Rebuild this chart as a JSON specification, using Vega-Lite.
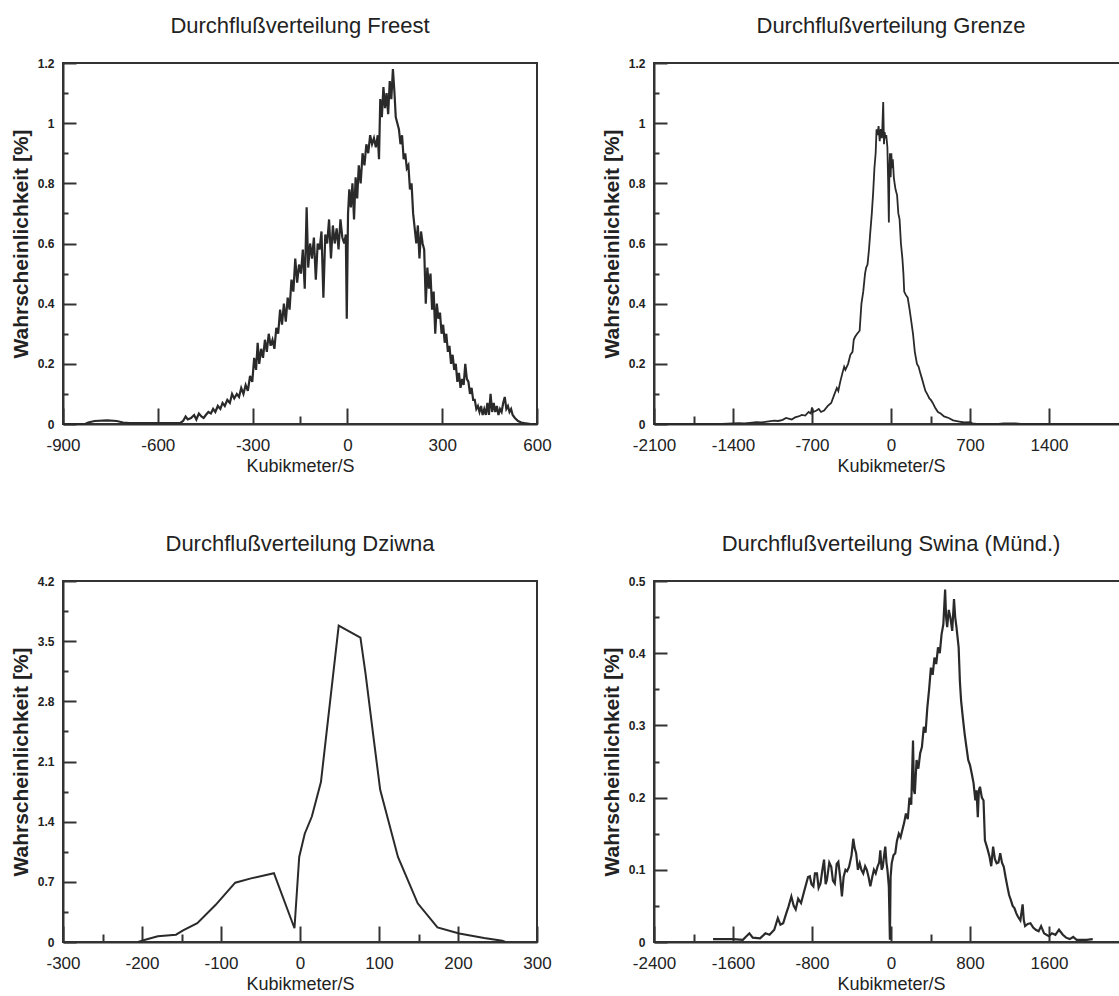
{
  "$schema": "https://vega.github.io/schema/vega-lite/v6.json",
  "padding": {"left": 9, "top": 14, "right": 5, "bottom": 5},
  "background": "white",
  "bounds": "flush",
  "columns": 2,
  "spacing": {"row": 157, "column": 117},
  "datasets": {
    "freest": [
      {"q": -900, "p": 0}, {"q": -830, "p": 0}, {"q": -820, "p": 0.005}, {"q": -800, "p": 0.01}, {"q": -760, "p": 0.012}, {"q": -730, "p": 0.01}, {"q": -710, "p": 0.005}, {"q": -690, "p": 0.003}, {"q": -600, "p": 0.003}, {"q": -530, "p": 0.003},
      {"q": -520, "p": 0.01}, {"q": -512, "p": 0.025}, {"q": -505, "p": 0.015}, {"q": -495, "p": 0.02}, {"q": -485, "p": 0.03}, {"q": -478, "p": 0.015}, {"q": -470, "p": 0.035}, {"q": -462, "p": 0.025}, {"q": -455, "p": 0.02}, {"q": -448, "p": 0.03},
      {"q": -440, "p": 0.04}, {"q": -432, "p": 0.035}, {"q": -425, "p": 0.05}, {"q": -418, "p": 0.04}, {"q": -410, "p": 0.06}, {"q": -402, "p": 0.05}, {"q": -395, "p": 0.07}, {"q": -388, "p": 0.06}, {"q": -380, "p": 0.08}, {"q": -372, "p": 0.07},
      {"q": -365, "p": 0.1}, {"q": -358, "p": 0.085}, {"q": -350, "p": 0.1}, {"q": -343, "p": 0.09}, {"q": -336, "p": 0.12}, {"q": -329, "p": 0.1}, {"q": -322, "p": 0.13}, {"q": -315, "p": 0.11}, {"q": -308, "p": 0.16}, {"q": -301, "p": 0.14},
      {"q": -295, "p": 0.22}, {"q": -289, "p": 0.18}, {"q": -284, "p": 0.27}, {"q": -279, "p": 0.2}, {"q": -273, "p": 0.25}, {"q": -267, "p": 0.22}, {"q": -261, "p": 0.28}, {"q": -255, "p": 0.24}, {"q": -249, "p": 0.3}, {"q": -243, "p": 0.26},
      {"q": -237, "p": 0.28}, {"q": -231, "p": 0.25}, {"q": -225, "p": 0.32}, {"q": -219, "p": 0.3}, {"q": -213, "p": 0.38}, {"q": -207, "p": 0.33}, {"q": -201, "p": 0.4}, {"q": -195, "p": 0.34}, {"q": -189, "p": 0.42}, {"q": -183, "p": 0.38},
      {"q": -177, "p": 0.48}, {"q": -171, "p": 0.44}, {"q": -165, "p": 0.55}, {"q": -159, "p": 0.47}, {"q": -153, "p": 0.53}, {"q": -147, "p": 0.5}, {"q": -141, "p": 0.58}, {"q": -135, "p": 0.45}, {"q": -129, "p": 0.72}, {"q": -124, "p": 0.52},
      {"q": -118, "p": 0.6}, {"q": -112, "p": 0.55}, {"q": -106, "p": 0.62}, {"q": -100, "p": 0.48}, {"q": -94, "p": 0.6}, {"q": -88, "p": 0.58}, {"q": -82, "p": 0.64}, {"q": -76, "p": 0.42}, {"q": -70, "p": 0.63}, {"q": -64, "p": 0.6},
      {"q": -58, "p": 0.68}, {"q": -52, "p": 0.55}, {"q": -46, "p": 0.66}, {"q": -40, "p": 0.6}, {"q": -34, "p": 0.65}, {"q": -28, "p": 0.58}, {"q": -22, "p": 0.68}, {"q": -16, "p": 0.62}, {"q": -10, "p": 0.6}, {"q": -5, "p": 0.63},
      {"q": -2, "p": 0.35}, {"q": 2, "p": 0.7}, {"q": 6, "p": 0.78}, {"q": 11, "p": 0.72}, {"q": 16, "p": 0.8}, {"q": 21, "p": 0.68}, {"q": 26, "p": 0.82}, {"q": 31, "p": 0.75}, {"q": 36, "p": 0.86}, {"q": 42, "p": 0.8},
      {"q": 48, "p": 0.9}, {"q": 54, "p": 0.86}, {"q": 60, "p": 0.93}, {"q": 66, "p": 0.9}, {"q": 72, "p": 0.96}, {"q": 78, "p": 0.93}, {"q": 84, "p": 0.95}, {"q": 90, "p": 0.92}, {"q": 96, "p": 0.96}, {"q": 100, "p": 0.88},
      {"q": 104, "p": 1.08}, {"q": 109, "p": 1.02}, {"q": 114, "p": 1.12}, {"q": 119, "p": 1.05}, {"q": 124, "p": 1.1}, {"q": 129, "p": 1.03}, {"q": 134, "p": 1.14}, {"q": 139, "p": 1.08}, {"q": 144, "p": 1.18}, {"q": 149, "p": 1.1},
      {"q": 153, "p": 1.02}, {"q": 158, "p": 1.0}, {"q": 163, "p": 0.98}, {"q": 168, "p": 0.93}, {"q": 173, "p": 0.96}, {"q": 178, "p": 0.88}, {"q": 183, "p": 0.9}, {"q": 188, "p": 0.85}, {"q": 193, "p": 0.86}, {"q": 198, "p": 0.78},
      {"q": 203, "p": 0.8}, {"q": 208, "p": 0.7}, {"q": 213, "p": 0.65}, {"q": 218, "p": 0.6}, {"q": 223, "p": 0.66}, {"q": 228, "p": 0.55}, {"q": 233, "p": 0.64}, {"q": 238, "p": 0.6}, {"q": 243, "p": 0.58}, {"q": 248, "p": 0.4},
      {"q": 253, "p": 0.52}, {"q": 258, "p": 0.45}, {"q": 263, "p": 0.5}, {"q": 268, "p": 0.38}, {"q": 273, "p": 0.44}, {"q": 278, "p": 0.3}, {"q": 283, "p": 0.4}, {"q": 288, "p": 0.35}, {"q": 293, "p": 0.37}, {"q": 298, "p": 0.3},
      {"q": 303, "p": 0.33}, {"q": 308, "p": 0.27}, {"q": 313, "p": 0.3}, {"q": 318, "p": 0.24}, {"q": 323, "p": 0.26}, {"q": 328, "p": 0.2}, {"q": 333, "p": 0.23}, {"q": 338, "p": 0.18}, {"q": 343, "p": 0.2}, {"q": 348, "p": 0.14},
      {"q": 353, "p": 0.17}, {"q": 358, "p": 0.12}, {"q": 363, "p": 0.15}, {"q": 368, "p": 0.13}, {"q": 373, "p": 0.2}, {"q": 378, "p": 0.15}, {"q": 383, "p": 0.14}, {"q": 388, "p": 0.1}, {"q": 393, "p": 0.12}, {"q": 398, "p": 0.08},
      {"q": 403, "p": 0.08}, {"q": 408, "p": 0.05}, {"q": 413, "p": 0.06}, {"q": 418, "p": 0.04}, {"q": 423, "p": 0.06}, {"q": 428, "p": 0.03}, {"q": 433, "p": 0.05}, {"q": 438, "p": 0.03}, {"q": 443, "p": 0.07}, {"q": 448, "p": 0.03},
      {"q": 453, "p": 0.1}, {"q": 458, "p": 0.04}, {"q": 463, "p": 0.07}, {"q": 468, "p": 0.04}, {"q": 473, "p": 0.06}, {"q": 478, "p": 0.03}, {"q": 483, "p": 0.05}, {"q": 488, "p": 0.04}, {"q": 493, "p": 0.07}, {"q": 498, "p": 0.09},
      {"q": 503, "p": 0.05}, {"q": 508, "p": 0.06}, {"q": 513, "p": 0.04}, {"q": 518, "p": 0.05}, {"q": 523, "p": 0.03}, {"q": 530, "p": 0.02}, {"q": 540, "p": 0.01}, {"q": 550, "p": 0.005}, {"q": 560, "p": 0.003}, {"q": 580, "p": 0}, {"q": 600, "p": 0}
    ],
    "grenze": [
      {"q": -2100, "p": 0}, {"q": -1500, "p": 0}, {"q": -1400, "p": 0.002}, {"q": -1350, "p": 0.003}, {"q": -1300, "p": 0.002}, {"q": -1250, "p": 0.004}, {"q": -1192, "p": 0.006}, {"q": -1150, "p": 0.005}, {"q": -1100, "p": 0.008}, {"q": -1034, "p": 0.011},
      {"q": -1000, "p": 0.01}, {"q": -960, "p": 0.014}, {"q": -930, "p": 0.02}, {"q": -908, "p": 0.018}, {"q": -880, "p": 0.015}, {"q": -850, "p": 0.022}, {"q": -820, "p": 0.025}, {"q": -790, "p": 0.03}, {"q": -760, "p": 0.028}, {"q": -730, "p": 0.04},
      {"q": -710, "p": 0.035}, {"q": -700, "p": 0.055}, {"q": -690, "p": 0.04}, {"q": -660, "p": 0.045}, {"q": -640, "p": 0.05}, {"q": -620, "p": 0.04}, {"q": -593, "p": 0.045}, {"q": -560, "p": 0.06}, {"q": -530, "p": 0.07}, {"q": -500, "p": 0.1},
      {"q": -480, "p": 0.12}, {"q": -467, "p": 0.11}, {"q": -450, "p": 0.14}, {"q": -430, "p": 0.17}, {"q": -415, "p": 0.19}, {"q": -404, "p": 0.18}, {"q": -380, "p": 0.2}, {"q": -360, "p": 0.23}, {"q": -341, "p": 0.24}, {"q": -330, "p": 0.28},
      {"q": -318, "p": 0.29}, {"q": -300, "p": 0.3}, {"q": -278, "p": 0.31}, {"q": -262, "p": 0.4}, {"q": -246, "p": 0.44}, {"q": -230, "p": 0.5}, {"q": -220, "p": 0.52}, {"q": -208, "p": 0.53}, {"q": -195, "p": 0.58}, {"q": -183, "p": 0.64},
      {"q": -170, "p": 0.7}, {"q": -158, "p": 0.77}, {"q": -147, "p": 0.85}, {"q": -136, "p": 0.9}, {"q": -128, "p": 0.98}, {"q": -120, "p": 0.96}, {"q": -110, "p": 0.99}, {"q": -100, "p": 0.94}, {"q": -90, "p": 0.98}, {"q": -80, "p": 0.95},
      {"q": -69, "p": 1.07}, {"q": -62, "p": 0.93}, {"q": -56, "p": 0.97}, {"q": -50, "p": 0.95}, {"q": -42, "p": 0.96}, {"q": -32, "p": 0.92}, {"q": -25, "p": 0.8}, {"q": -19, "p": 0.67}, {"q": -14, "p": 0.85}, {"q": -9, "p": 0.9},
      {"q": -3, "p": 0.82}, {"q": 3, "p": 0.9}, {"q": 9, "p": 0.85}, {"q": 16, "p": 0.88}, {"q": 25, "p": 0.82}, {"q": 32, "p": 0.8}, {"q": 40, "p": 0.78}, {"q": 54, "p": 0.76}, {"q": 65, "p": 0.7}, {"q": 76, "p": 0.68},
      {"q": 88, "p": 0.6}, {"q": 101, "p": 0.55}, {"q": 110, "p": 0.5}, {"q": 117, "p": 0.44}, {"q": 130, "p": 0.43}, {"q": 148, "p": 0.42}, {"q": 165, "p": 0.38}, {"q": 180, "p": 0.34}, {"q": 195, "p": 0.3}, {"q": 211, "p": 0.24},
      {"q": 230, "p": 0.2}, {"q": 245, "p": 0.19}, {"q": 259, "p": 0.17}, {"q": 275, "p": 0.15}, {"q": 290, "p": 0.13}, {"q": 305, "p": 0.11}, {"q": 320, "p": 0.1}, {"q": 340, "p": 0.085}, {"q": 353, "p": 0.08}, {"q": 370, "p": 0.07},
      {"q": 390, "p": 0.055}, {"q": 416, "p": 0.04}, {"q": 440, "p": 0.035}, {"q": 470, "p": 0.025}, {"q": 511, "p": 0.02}, {"q": 550, "p": 0.012}, {"q": 605, "p": 0.008}, {"q": 650, "p": 0.005}, {"q": 700, "p": 0.006}, {"q": 720, "p": 0.002},
      {"q": 760, "p": 0}, {"q": 950, "p": 0}, {"q": 1000, "p": 0.002}, {"q": 1100, "p": 0.002}, {"q": 1150, "p": 0}, {"q": 2100, "p": 0}
    ],
    "dziwna": [
      {"q": -205, "p": 0}, {"q": -196, "p": 0.027}, {"q": -180, "p": 0.066}, {"q": -157, "p": 0.085}, {"q": -148, "p": 0.135}, {"q": -130, "p": 0.22}, {"q": -107, "p": 0.43}, {"q": -82, "p": 0.69}, {"q": -62, "p": 0.74}, {"q": -33, "p": 0.8},
      {"q": -7, "p": 0.16}, {"q": -1, "p": 0.99}, {"q": 6, "p": 1.26}, {"q": 15, "p": 1.46}, {"q": 26.5, "p": 1.86}, {"q": 49, "p": 3.68}, {"q": 76.5, "p": 3.54}, {"q": 83, "p": 3.12}, {"q": 92.5, "p": 2.42}, {"q": 101.5, "p": 1.77},
      {"q": 124, "p": 0.99}, {"q": 149, "p": 0.45}, {"q": 174, "p": 0.17}, {"q": 201.5, "p": 0.1}, {"q": 233, "p": 0.046}, {"q": 256, "p": 0.015}, {"q": 260, "p": 0}
    ],
    "swina": [
      {"q": -1802, "p": 0.004}, {"q": -1600, "p": 0.004}, {"q": -1500, "p": 0.003}, {"q": -1434, "p": 0.012}, {"q": -1400, "p": 0.006}, {"q": -1326, "p": 0.005}, {"q": -1272, "p": 0.012}, {"q": -1230, "p": 0.01}, {"q": -1182, "p": 0.017}, {"q": -1146, "p": 0.033},
      {"q": -1120, "p": 0.024}, {"q": -1092, "p": 0.026}, {"q": -1060, "p": 0.04}, {"q": -1038, "p": 0.049}, {"q": -1009, "p": 0.063}, {"q": -985, "p": 0.05}, {"q": -965, "p": 0.045}, {"q": -940, "p": 0.06}, {"q": -911, "p": 0.054}, {"q": -880, "p": 0.07},
      {"q": -858, "p": 0.081}, {"q": -840, "p": 0.09}, {"q": -822, "p": 0.091}, {"q": -805, "p": 0.08}, {"q": -786, "p": 0.077}, {"q": -770, "p": 0.095}, {"q": -750, "p": 0.095}, {"q": -733, "p": 0.075}, {"q": -714, "p": 0.081}, {"q": -695, "p": 0.1},
      {"q": -678, "p": 0.114}, {"q": -662, "p": 0.08}, {"q": -649, "p": 0.086}, {"q": -625, "p": 0.11}, {"q": -605, "p": 0.104}, {"q": -588, "p": 0.085}, {"q": -569, "p": 0.081}, {"q": -550, "p": 0.108}, {"q": -533, "p": 0.111}, {"q": -515, "p": 0.09},
      {"q": -497, "p": 0.063}, {"q": -480, "p": 0.09}, {"q": -461, "p": 0.1}, {"q": -445, "p": 0.098}, {"q": -425, "p": 0.104}, {"q": -400, "p": 0.12}, {"q": -382, "p": 0.143}, {"q": -368, "p": 0.13}, {"q": -353, "p": 0.123}, {"q": -335, "p": 0.1},
      {"q": -317, "p": 0.109}, {"q": -300, "p": 0.1}, {"q": -281, "p": 0.095}, {"q": -262, "p": 0.105}, {"q": -245, "p": 0.1}, {"q": -227, "p": 0.09}, {"q": -209, "p": 0.077}, {"q": -190, "p": 0.09}, {"q": -173, "p": 0.1}, {"q": -155, "p": 0.095},
      {"q": -137, "p": 0.104}, {"q": -120, "p": 0.11}, {"q": -108, "p": 0.127}, {"q": -95, "p": 0.1}, {"q": -83, "p": 0.104}, {"q": -70, "p": 0.12}, {"q": -58, "p": 0.132}, {"q": -46, "p": 0.11}, {"q": -36, "p": 0.1}, {"q": -22, "p": 0.077},
      {"q": -11, "p": 0.003}, {"q": -4, "p": 0.09}, {"q": 7, "p": 0.109}, {"q": 25, "p": 0.12}, {"q": 43, "p": 0.123}, {"q": 60, "p": 0.14}, {"q": 79, "p": 0.15}, {"q": 97, "p": 0.145}, {"q": 115, "p": 0.155}, {"q": 133, "p": 0.165},
      {"q": 151, "p": 0.178}, {"q": 170, "p": 0.17}, {"q": 187, "p": 0.2}, {"q": 205, "p": 0.19}, {"q": 223, "p": 0.279}, {"q": 232, "p": 0.21}, {"q": 241, "p": 0.205}, {"q": 259, "p": 0.252}, {"q": 277, "p": 0.24}, {"q": 295, "p": 0.261},
      {"q": 313, "p": 0.27}, {"q": 332, "p": 0.298}, {"q": 350, "p": 0.29}, {"q": 368, "p": 0.325}, {"q": 386, "p": 0.35}, {"q": 404, "p": 0.38}, {"q": 422, "p": 0.37}, {"q": 440, "p": 0.394}, {"q": 458, "p": 0.385}, {"q": 476, "p": 0.408},
      {"q": 494, "p": 0.4}, {"q": 512, "p": 0.426}, {"q": 530, "p": 0.44}, {"q": 548, "p": 0.488}, {"q": 558, "p": 0.45}, {"q": 569, "p": 0.436}, {"q": 585, "p": 0.46}, {"q": 602, "p": 0.449}, {"q": 620, "p": 0.431}, {"q": 638, "p": 0.475},
      {"q": 650, "p": 0.45}, {"q": 663, "p": 0.436}, {"q": 685, "p": 0.408}, {"q": 698, "p": 0.36}, {"q": 710, "p": 0.334}, {"q": 728, "p": 0.31}, {"q": 746, "p": 0.288}, {"q": 764, "p": 0.27}, {"q": 782, "p": 0.252}, {"q": 800, "p": 0.245},
      {"q": 818, "p": 0.233}, {"q": 836, "p": 0.22}, {"q": 854, "p": 0.196}, {"q": 866, "p": 0.21}, {"q": 879, "p": 0.173}, {"q": 890, "p": 0.21}, {"q": 901, "p": 0.215}, {"q": 920, "p": 0.2}, {"q": 937, "p": 0.196}, {"q": 951, "p": 0.141},
      {"q": 975, "p": 0.13}, {"q": 998, "p": 0.118}, {"q": 1015, "p": 0.105}, {"q": 1034, "p": 0.132}, {"q": 1052, "p": 0.115}, {"q": 1070, "p": 0.109}, {"q": 1088, "p": 0.11}, {"q": 1106, "p": 0.123}, {"q": 1124, "p": 0.11}, {"q": 1142, "p": 0.104},
      {"q": 1160, "p": 0.09}, {"q": 1178, "p": 0.077}, {"q": 1196, "p": 0.065}, {"q": 1214, "p": 0.058}, {"q": 1232, "p": 0.05}, {"q": 1250, "p": 0.047}, {"q": 1268, "p": 0.04}, {"q": 1286, "p": 0.035}, {"q": 1310, "p": 0.03}, {"q": 1333, "p": 0.052},
      {"q": 1345, "p": 0.03}, {"q": 1358, "p": 0.022}, {"q": 1385, "p": 0.025}, {"q": 1412, "p": 0.026}, {"q": 1440, "p": 0.02}, {"q": 1466, "p": 0.017}, {"q": 1495, "p": 0.015}, {"q": 1520, "p": 0.022}, {"q": 1550, "p": 0.012}, {"q": 1574, "p": 0.01},
      {"q": 1600, "p": 0.008}, {"q": 1629, "p": 0.012}, {"q": 1665, "p": 0.01}, {"q": 1701, "p": 0.017}, {"q": 1740, "p": 0.01}, {"q": 1773, "p": 0.006}, {"q": 1810, "p": 0.004}, {"q": 1845, "p": 0.007}, {"q": 1880, "p": 0.003}, {"q": 1917, "p": 0.003},
      {"q": 1980, "p": 0.003}, {"q": 2043, "p": 0.004}
    ]
  },
  "config": {
    "view": {"stroke": "#333", "strokeWidth": 2},
    "axis": {"domainColor": "#333", "domainWidth": 2, "tickColor": "#333", "tickWidth": 2, "grid": false, "labelOverlap": false, "labelFlush": false, "labelColor": "#222", "titleColor": "#222"},
    "axisX": {"labelFont": "Liberation Sans", "labelFontSize": 17, "labelPadding": 29, "titleFont": "Liberation Sans", "titleFontSize": 18, "titleFontWeight": "normal", "titlePadding": -4},
    "axisY": {"labelFont": "Liberation Sans", "labelFontSize": 12, "labelFontWeight": "bold", "labelPadding": 22, "titleFont": "Liberation Sans", "titleFontSize": 21, "titleFontWeight": "bold", "titlePadding": 6},
    "title": {"font": "Liberation Sans", "fontSize": 22, "fontWeight": "normal", "color": "#222", "frame": "group", "baseline": "alphabetic", "offset": 19},
    "line": {"color": "#2a2a2a", "strokeWidth": 2.2}
  },
  "concat": [
    {
      "width": 474, "height": 361,
      "title": "Durchflußverteilung Freest",
      "data": {"name": "freest"},
      "mark": {"type": "line"},
      "encoding": {
        "x": {"field": "q", "type": "quantitative", "scale": {"domain": [-900, 600], "nice": false, "zero": false},
          "axis": {"title": "Kubikmeter/S", "values": [-900, -600, -300, -150, 0, 300, 600],
            "labelExpr": "datum.value % 300 === 0 ? '' + datum.value : ''",
            "tickSize": {"condition": {"test": "datum.value % 300 === 0", "value": -16}, "value": -8}}},
        "y": {"field": "p", "type": "quantitative", "scale": {"domain": [0, 1.2], "nice": false},
          "axis": {"title": "Wahrscheinlichkeit [%]", "values": [0, 0.1, 0.2, 0.3, 0.4, 0.5, 0.6, 0.7, 0.8, 0.9, 1, 1.1, 1.2],
            "labelExpr": "round(datum.value * 10) % 2 === 0 ? '' + datum.value : ''",
            "tickSize": {"condition": {"test": "round(datum.value * 10) % 2 === 0", "value": -13}, "value": -5}}}
      }
    },
    {
      "width": 474, "height": 361,
      "title": "Durchflußverteilung Grenze",
      "data": {"name": "grenze"},
      "mark": {"type": "line", "strokeWidth": 1.8},
      "encoding": {
        "x": {"field": "q", "type": "quantitative", "scale": {"domain": [-2100, 2100], "nice": false, "zero": false},
          "axis": {"title": "Kubikmeter/S", "values": [-2100, -1750, -1400, -700, 0, 350, 700, 1400, 2100],
            "labelExpr": "datum.value % 700 === 0 && datum.value < 2100 ? '' + datum.value : ''",
            "tickSize": {"condition": {"test": "datum.value % 700 === 0", "value": -16}, "value": -8}}},
        "y": {"field": "p", "type": "quantitative", "scale": {"domain": [0, 1.2], "nice": false},
          "axis": {"title": "Wahrscheinlichkeit [%]", "values": [0, 0.1, 0.2, 0.3, 0.4, 0.5, 0.6, 0.7, 0.8, 0.9, 1, 1.1, 1.2],
            "labelExpr": "round(datum.value * 10) % 2 === 0 ? '' + datum.value : ''",
            "tickSize": {"condition": {"test": "round(datum.value * 10) % 2 === 0", "value": -13}, "value": -5}}}
      }
    },
    {
      "width": 474, "height": 361,
      "title": "Durchflußverteilung Dziwna",
      "data": {"name": "dziwna"},
      "mark": {"type": "line", "strokeWidth": 2},
      "encoding": {
        "x": {"field": "q", "type": "quantitative", "scale": {"domain": [-300, 300], "nice": false, "zero": false},
          "axis": {"title": "Kubikmeter/S", "values": [-300, -250, -200, -150, -100, 0, 100, 150, 200, 300],
            "labelExpr": "datum.value % 100 === 0 ? '' + datum.value : ''",
            "tickSize": {"condition": {"test": "datum.value % 100 === 0", "value": -16}, "value": -8}}},
        "y": {"field": "p", "type": "quantitative", "scale": {"domain": [0, 4.2], "nice": false},
          "axis": {"title": "Wahrscheinlichkeit [%]", "values": [0, 0.35, 0.7, 1.05, 1.4, 1.75, 2.1, 2.45, 2.8, 3.15, 3.5, 3.85, 4.2],
            "labelExpr": "round(datum.value / 0.35) % 2 === 0 ? '' + datum.value : ''",
            "tickSize": {"condition": {"test": "round(datum.value / 0.35) % 2 === 0", "value": -13}, "value": -5}}}
      }
    },
    {
      "width": 474, "height": 361,
      "title": "Durchflußverteilung Swina (Münd.)",
      "data": {"name": "swina"},
      "mark": {"type": "line"},
      "encoding": {
        "x": {"field": "q", "type": "quantitative", "scale": {"domain": [-2400, 2400], "nice": false, "zero": false},
          "axis": {"title": "Kubikmeter/S", "values": [-2400, -2000, -1600, -800, 0, 400, 800, 1600, 2400],
            "labelExpr": "datum.value % 800 === 0 && datum.value < 2400 ? '' + datum.value : ''",
            "tickSize": {"condition": {"test": "datum.value % 800 === 0", "value": -16}, "value": -8}}},
        "y": {"field": "p", "type": "quantitative", "scale": {"domain": [0, 0.5], "nice": false},
          "axis": {"title": "Wahrscheinlichkeit [%]", "values": [0, 0.05, 0.1, 0.15, 0.2, 0.25, 0.3, 0.35, 0.4, 0.45, 0.5],
            "labelExpr": "round(datum.value * 100) % 10 === 0 ? '' + datum.value : ''",
            "tickSize": {"condition": {"test": "round(datum.value * 100) % 10 === 0", "value": -13}, "value": -5}}}
      }
    }
  ]
}
